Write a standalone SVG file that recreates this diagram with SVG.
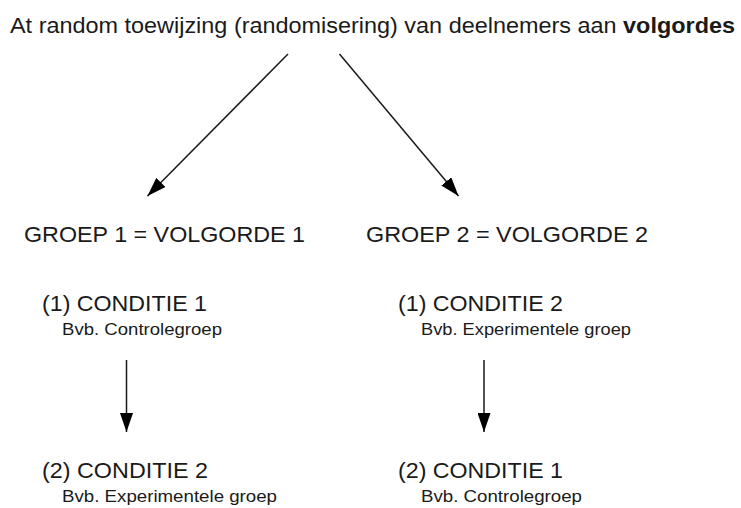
<svg xmlns="http://www.w3.org/2000/svg" width="741" height="508" viewBox="0 0 741 508">
<style>
text{font-family:"Liberation Sans",Arial,sans-serif;fill:#1a1a1a}
.t{font-size:22.5px}
.g{font-size:21.5px}
.c{font-size:22px}
.s{font-size:17px}
.ln{stroke:#1a1a1a;stroke-width:1.5;fill:none;marker-end:url(#ah)}
</style>
<defs>
<marker id="ah" markerUnits="userSpaceOnUse" markerWidth="20" markerHeight="13" refX="19" refY="6.5" orient="auto">
<path d="M0,0 L19,6.5 L0,13 z" fill="#000"/>
</marker>
</defs>
<rect width="741" height="508" fill="#fff"/>
<g id="title"><text class="t" x="10" y="33" textLength="725" lengthAdjust="spacingAndGlyphs">At random toewijzing (randomisering) van deelnemers aan <tspan font-weight="bold">volgordes</tspan></text></g>
<g id="groep1"><text class="g" x="24" y="242" textLength="281" lengthAdjust="spacingAndGlyphs">GROEP 1 = VOLGORDE 1</text></g>
<g id="groep2"><text class="g" x="366" y="242" textLength="282" lengthAdjust="spacingAndGlyphs">GROEP 2 = VOLGORDE 2</text></g>
<g id="g1c1">
<text class="c" x="42" y="311" textLength="165" lengthAdjust="spacingAndGlyphs">(1) CONDITIE 1</text>
<text class="s" x="62" y="335" textLength="160" lengthAdjust="spacingAndGlyphs">Bvb. Controlegroep</text>
</g>
<g id="g2c1">
<text class="c" x="398" y="311" textLength="165" lengthAdjust="spacingAndGlyphs">(1) CONDITIE 2</text>
<text class="s" x="421" y="335" textLength="210" lengthAdjust="spacingAndGlyphs">Bvb. Experimentele groep</text>
</g>
<g id="g1c2">
<text class="c" x="42" y="478" textLength="166" lengthAdjust="spacingAndGlyphs">(2) CONDITIE 2</text>
<text class="s" x="62" y="502" textLength="215" lengthAdjust="spacingAndGlyphs">Bvb. Experimentele groep</text>
</g>
<g id="g2c2">
<text class="c" x="398" y="478" textLength="165" lengthAdjust="spacingAndGlyphs">(2) CONDITIE 1</text>
<text class="s" x="421" y="502" textLength="161" lengthAdjust="spacingAndGlyphs">Bvb. Controlegroep</text>
</g>
<g id="connectors">
<line class="ln" x1="288" y1="54" x2="147.5" y2="196"/>
<line class="ln" x1="339.5" y1="54" x2="458.5" y2="196"/>
<line class="ln" x1="126.5" y1="360" x2="126.5" y2="432"/>
<line class="ln" x1="484" y1="360" x2="484" y2="432"/>
</g>
</svg>
